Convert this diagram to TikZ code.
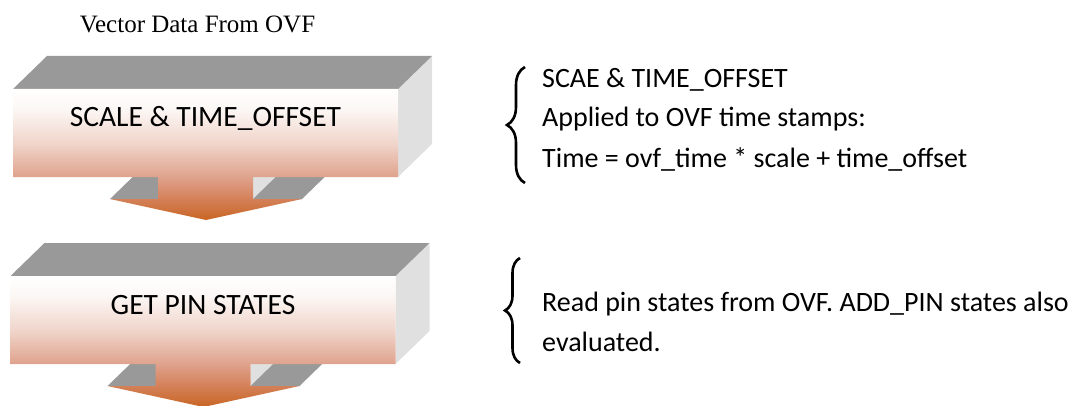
\documentclass[tikz,border=0pt]{standalone}
\usepackage{fontspec}
\setmainfont{Carlito}
\newfontfamily\titlefont{Liberation Serif}
\usetikzlibrary{decorations.pathreplacing}

\definecolor{facetop}{RGB}{153,153,153}
\definecolor{faceside}{RGB}{224,224,224}
\definecolor{fade0}{RGB}{255,255,255}
\definecolor{fade1}{RGB}{252,247,245}
\definecolor{fade2}{RGB}{240,212,202}
\definecolor{fade3}{RGB}{223,162,140}
\definecolor{fade4}{RGB}{212,128,88}
\definecolor{fade5}{RGB}{201,101,36}

% white-to-orange fade of the front face and its arrow (25bp..75bp spans the shape)
\pgfdeclareverticalshading{stagefade}{100bp}{color(0bp)=(fade5); color(25bp)=(fade5);
  color(33bp)=(fade4); color(41.4bp)=(fade3); color(54bp)=(fade2);
  color(67.4bp)=(fade1); color(75bp)=(fade0); color(100bp)=(fade0)}

\tikzset{
  topface/.style={fill=facetop},
  sideface/.style={fill=faceside},
  frontface/.style={shading=stagefade},
  stagelabel/.style={font=\fontsize{29.5}{32}\selectfont, anchor=base, inner sep=0pt},
  note/.style={font=\fontsize{28}{40}\selectfont, anchor=base west, align=left, inner sep=0pt},
  notebrace/.style={decorate, decoration={brace, amplitude=#1}, line width=2.6pt},
  % one 3-D block with a downward arrow under it
  pics/stage/.style={code={
    \fill[sideface] (398,228) -- (432,261) -- (432,349) -- (398,316) -- cycle;
    \fill[topface]  (13,316) -- (47,349) -- (432,349) -- (398,316) -- cycle;
    \fill[sideface] (253,206) -- (287,239) -- (287,261) -- (253,228) -- cycle;
    \fill[topface]  (110,206) -- (144,239) -- (192,239) -- (158,206) -- cycle;
    \fill[topface]  (253,206) -- (287,239) -- (336,239) -- (302,206) -- cycle;
    \shade[frontface] (13,316) -- (398,316) -- (398,228) -- (253,228) -- (253,206)
      -- (302,206) -- (206,185) -- (110,206) -- (158,206) -- (158,228)
      -- (13,228) -- cycle;
    \node[stagelabel] (-label) at (205.5,278) {#1};
  }}
}

\begin{document}
\begin{tikzpicture}[x=1pt, y=1pt]
  \useasboundingbox (0,0) rectangle (1070,405);

  \node[font=\titlefont\fontsize{25}{30}\selectfont, anchor=base, inner sep=0pt]
    (title) at (197.5,372) {Vector Data From OVF};

  \pic (st1) at (0,0) {stage={SCALE \& TIME\_OFFSET}};
  \pic (st2) at (-2.5,-187) {stage={GET PIN STATES}};

  % explanatory notes with their braces (base = baseline of the last line)
  \coordinate (b1top) at (525,338);
  \coordinate (b1bot) at (525,222);
  \draw[notebrace=18pt] (b1bot) -- (b1top);
  \node[note] (n1) at (542,238)
    {SCAE \& TIME\_OFFSET\\Applied to OVF time stamps:\\Time = ovf\_time * scale + time\_offset};

  \coordinate (b2top) at (520,147);
  \coordinate (b2bot) at (520,42);
  \draw[notebrace=15pt] (b2bot) -- (b2top);
  \node[note] (n2) at (542,54)
    {Read pin states from OVF. ADD\_PIN states also\\evaluated.};
\end{tikzpicture}
\end{document}
